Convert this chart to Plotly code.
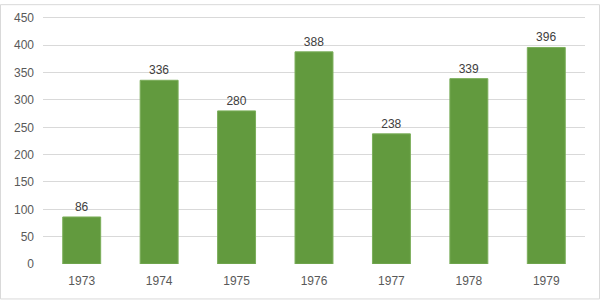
import plotly.graph_objects as go

years = ["1973", "1974", "1975", "1976", "1977", "1978", "1979"]
values = [86, 336, 280, 388, 238, 339, 396]

W, H = 600, 300
ml, mr, mt, mb = 43, 15, 11, 36
pw, ph = W - ml - mr, H - mt - mb
ytop = ph / (250 / 450)

fig = go.Figure(go.Bar(
    x=years, y=values,
    marker=dict(color="#629A3E", line=dict(color="#7BAE5A", width=1)),
    text=[str(v) for v in values], textposition="outside",
    textfont=dict(family="Liberation Sans, Arial", size=12, color="#404040"),
    cliponaxis=False,
))

fig.update_layout(
    width=W, height=H,
    margin=dict(l=ml, r=mr, t=mt, b=mb),
    paper_bgcolor="white", plot_bgcolor="white",
    bargap=0.51,
    showlegend=False,
    font=dict(family="Liberation Sans, Arial", size=12, color="#595959"),
    xaxis=dict(showgrid=False, showline=False, ticks="", tickfont=dict(size=12, color="#595959")),
    yaxis=dict(range=[0, ytop], tick0=0, dtick=50, showgrid=True, gridcolor="#D9D9D9", gridwidth=1,
               zeroline=False, showline=False, ticks="", ticklen=0,
               tickfont=dict(size=12, color="#595959")),
    shapes=[dict(type="rect", xref="paper", yref="paper",
                 x0=-(ml - 0.5) / pw, x1=1 + (mr - 0.5) / pw,
                 y0=-(mb - 0.5) / ph, y1=1 + (mt - 0.5) / ph,
                 line=dict(color="#D9D9D9", width=1), fillcolor="rgba(0,0,0,0)", layer="below")],
)
fig.update_yaxes(ticklabelstandoff=8)
fig.update_xaxes(ticklabelstandoff=8)

fig.write_html("out.html")
